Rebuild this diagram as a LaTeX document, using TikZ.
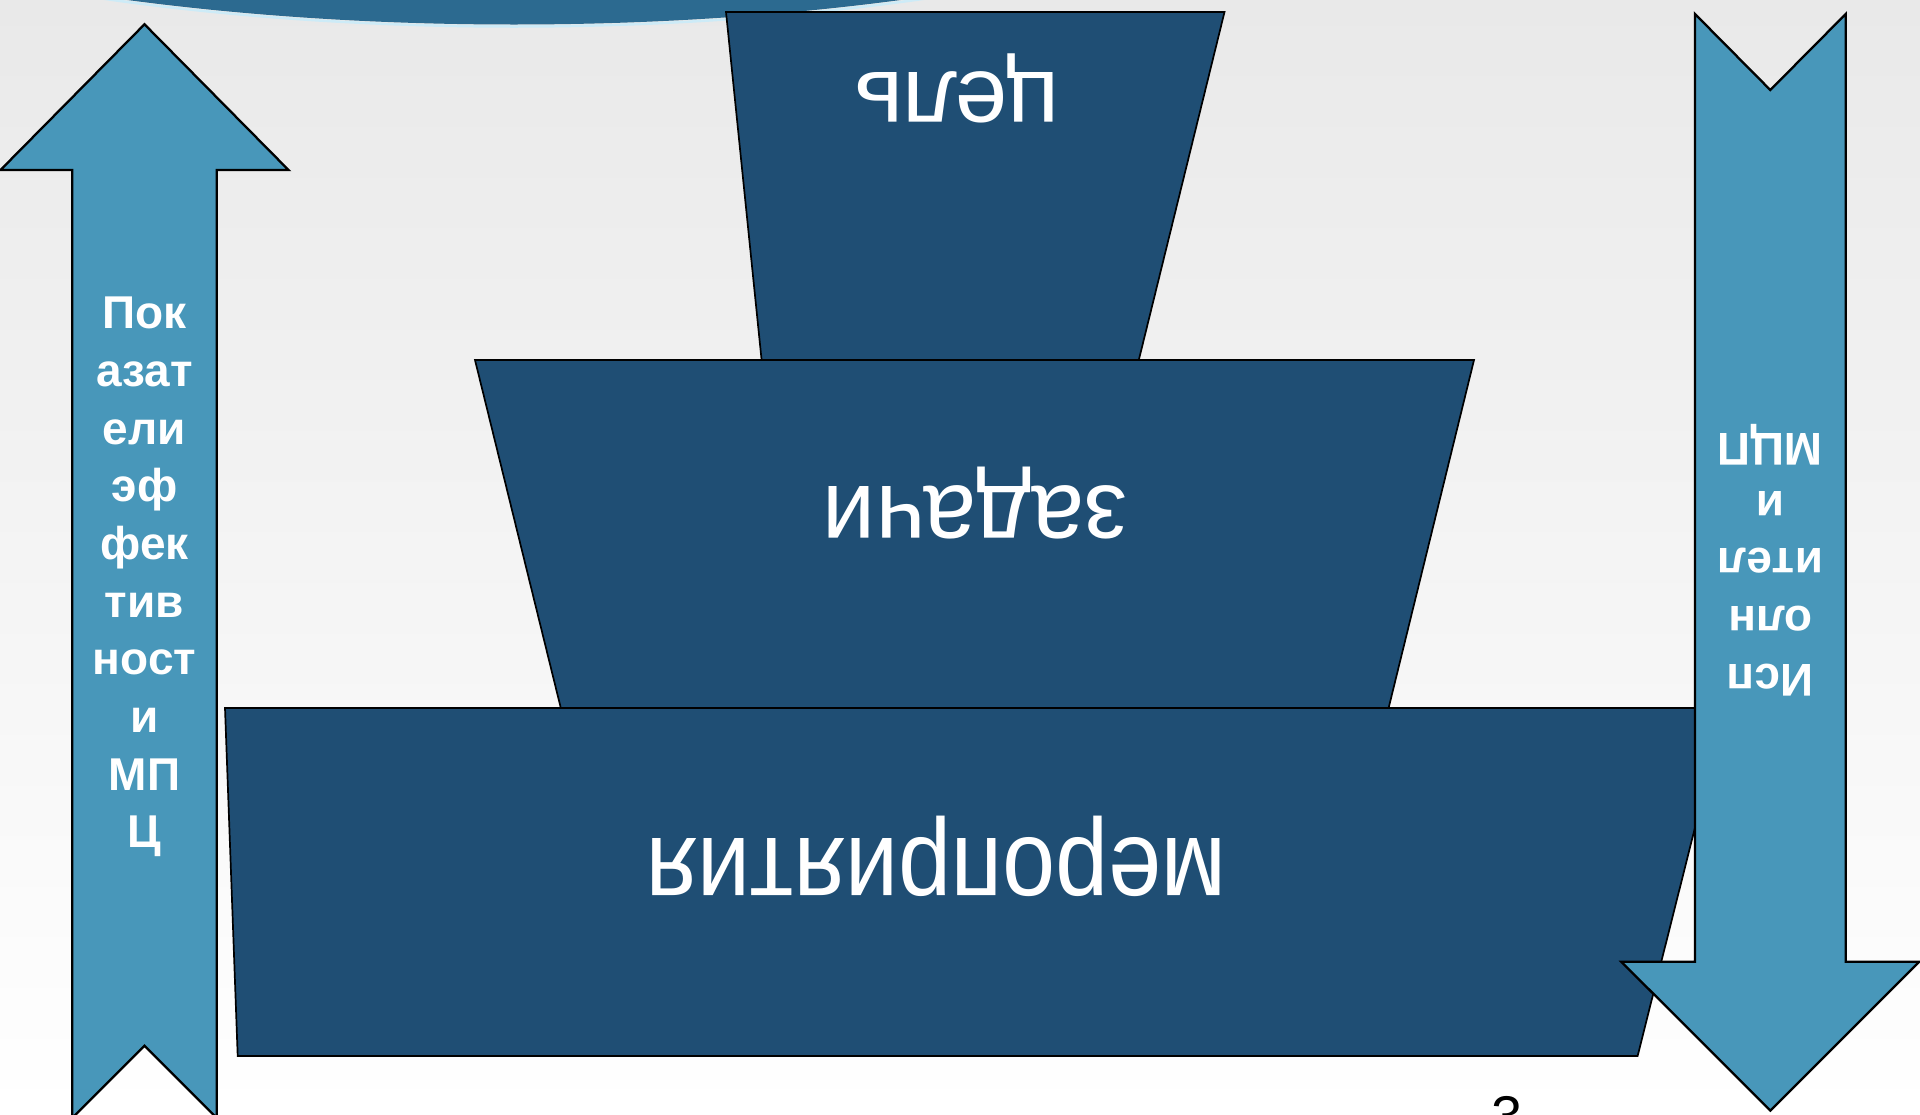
\documentclass[tikz,border=0pt]{standalone}
\usepackage{fontspec}
\setmainfont{Liberation Sans}
\definecolor{trap}{HTML}{1F4E74}
\definecolor{arr}{HTML}{4897BA}
\definecolor{hdr}{HTML}{2C6A90}
\definecolor{bgtop}{HTML}{E9E9E9}
\definecolor{rim}{HTML}{CDEBF7}
\tikzset{
  trapst/.style={fill=trap, draw=black, line width=1.7pt, line join=miter},
  arrst/.style={fill=arr, draw=black, line width=2.3pt, line join=miter},
  bigtxt/.style={text=white, font=\fontsize{94}{94}\selectfont, inner sep=0pt},
  arrtxt/.style={text=white, font=\bfseries\fontsize{46}{57.7}\selectfont, align=center, inner sep=0pt}
}
\begin{document}
\begin{tikzpicture}[x=1pt,y=-1pt]
\useasboundingbox (0,0) rectangle (1920,1114);
\clip (0,0) rectangle (1920,1114);
\shade[top color=bgtop, bottom color=white] (0,0) rectangle (1920,1114);
% header ellipse
\fill[hdr] (514,-275.5) ellipse [x radius=975, y radius=300];
\draw[rim, line width=2.5pt] (514,-273.5) ellipse [x radius=975, y radius=300];
% pyramid
\draw[trapst] (225,708) -- (1725,708) -- (1637.6,1056) -- (237.7,1056) -- cycle;
\draw[trapst] (475,360) -- (1474,360) -- (1388.6,708) -- (560.8,708) -- cycle;
\draw[trapst] (726,12) -- (1224.5,12) -- (1138.8,360) -- (761.6,360) -- cycle;
% left arrow (up)
\draw[arrst] (144.5,24.3) -- (288.5,170) -- (216.7,170) -- (216.7,1118) -- (144.5,1045.8)
  -- (72.3,1118) -- (72.3,170) -- (0.5,170) -- cycle;
% right arrow (down)
\draw[arrst] (1695,14) -- (1770.3,90) -- (1845.7,14) -- (1845.7,961.7) -- (1919.3,961.7)
  -- (1770.3,1110.6) -- (1621.3,961.7) -- (1695,961.7) -- cycle;
% texts
\node[bigtxt, rotate=180, anchor=base] (goal) at (957,72) {цель};
\node[bigtxt, rotate=180, anchor=base, xscale=1.01, yscale=1.04] (tasks) at (975.3,486) {задачи};
\node[bigtxt, rotate=180, anchor=base, xscale=1.01, yscale=1.15] (events) at (936.2,838) {мероприятия};
\node[arrtxt] (kpi) at (144.5,577) {Пок\\азат\\ели\\эф\\фек\\тив\\ност\\и\\МП\\Ц};
\node[arrtxt, rotate=180] (exec) at (1770.3,560) {Исп\\олн\\ител\\и\\МЦП};
\node[font=\fontsize{56}{56}\selectfont, anchor=base, inner sep=0pt] (num) at (1507,1135) {3};
\end{tikzpicture}
\end{document}
